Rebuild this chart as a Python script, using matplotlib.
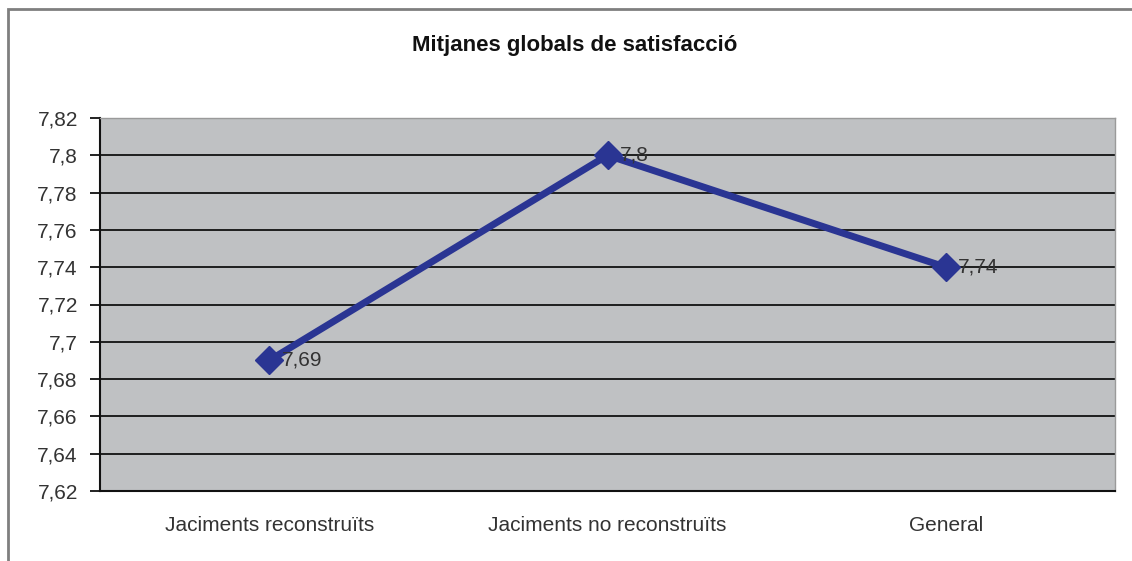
import matplotlib
matplotlib.use('Agg')
import matplotlib.pyplot as plt
from matplotlib.patches import Rectangle
from matplotlib.ticker import FuncFormatter

categories = ['Jaciments reconstruïts', 'Jaciments no reconstruïts', 'General']
values = [7.69, 7.80, 7.74]
value_labels = ['7,69', '7,8', '7,74']
yticks = [7.62, 7.64, 7.66, 7.68, 7.70, 7.72, 7.74, 7.76, 7.78, 7.80, 7.82]

plt.rcParams['font.family'] = ['Liberation Sans', 'DejaVu Sans']

fig = plt.figure(figsize=(11.32, 5.61), dpi=100)
fig.patch.set_facecolor('white')

# outer chart frame (only left and top edges are visible in the crop)
frame = Rectangle((8 / 1132, -0.05), 1.2, 1 - 9 / 561 + 0.05, transform=fig.transFigure,
                  fill=False, edgecolor='#7f7f7f', linewidth=2)
fig.patches.append(frame)

ax = fig.add_axes([100 / 1132, 1 - 491 / 561, 1015 / 1132, 373 / 561])
ax.set_facecolor('#bfc1c3')

xs = list(range(len(categories)))
ax.plot(xs, values, color='#2a3593', linewidth=5, marker='D', markersize=14,
        markeredgecolor='#2a3593', markerfacecolor='#2a3593', zorder=3)
for x, v, lab in zip(xs, values, value_labels):
    ax.annotate(lab, xy=(x, v), xytext=(9, 0), textcoords='offset points',
                ha='left', va='center', fontsize=15, color='#333333', zorder=4)

ax.set_xlim(-0.5, len(categories) - 0.5)
ax.set_ylim(7.62, 7.82)
ax.set_yticks(yticks)
ax.yaxis.set_major_formatter(FuncFormatter(lambda v, p: ('%g' % round(v, 2)).replace('.', ',')))
ax.grid(axis='y', color='#111111', linewidth=1.3)
ax.set_axisbelow(True)

ax.set_xticks(xs)
ax.set_xticklabels(categories)
ax.tick_params(axis='x', length=0, pad=18, labelsize=15, colors='#333333')
ax.tick_params(axis='y', length=7, width=1.3, pad=9, labelsize=15, colors='#333333')
ax.tick_params(axis='y', direction='out', color='#111111')

for side in ['top', 'right']:
    ax.spines[side].set_color('#9a9a9a')
    ax.spines[side].set_linewidth(1)
ax.spines['left'].set_color('#111111')
ax.spines['left'].set_linewidth(1.5)
ax.spines['bottom'].set_color('#111111')
ax.spines['bottom'].set_linewidth(1.5)

fig.text(575 / 1132, 1 - 45 / 561, 'Mitjanes globals de satisfacció', ha='center', va='center',
         fontsize=16, fontweight='bold', color='#111111')

fig.savefig('out.png', dpi=100)
